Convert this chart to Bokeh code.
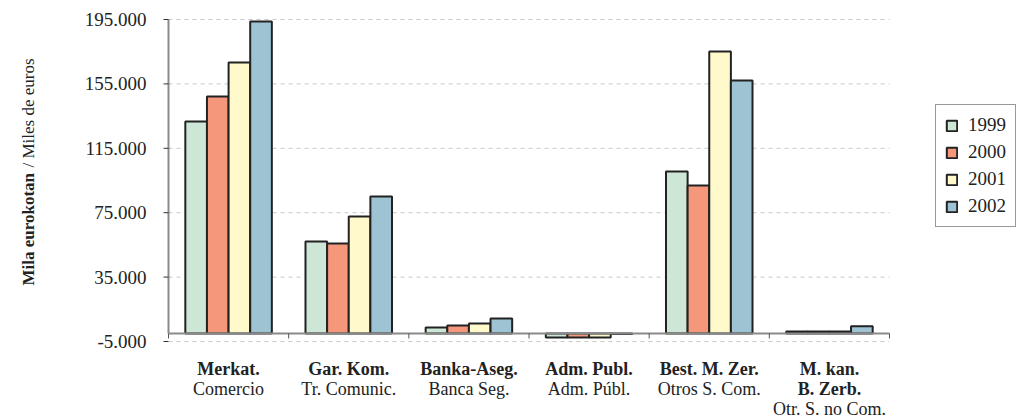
import numpy as np
from bokeh.plotting import figure
from bokeh.models import ColumnDataSource, Range1d, Legend, LegendItem
from bokeh.core.properties import value
from bokeh.transform import dodge
from bokeh.embed import file_html
from bokeh.resources import INLINE

# ---- data ----
cat_bold = [["Merkat."], ["Gar. Kom."], ["Banka-Aseg."], ["Adm. Publ."], ["Best. M. Zer."], ["M. kan.", "B. Zerb."]]
cat_es = ["Comercio", "Tr. Comunic.", "Banca Seg.", "Adm. Públ.", "Otros S. Com.", "Otr. S. no Com."]
years = ["1999", "2000", "2001", "2002"]
v1999 = [131700, 57100, 3700, -2500, 100600, 1200]
v2000 = [147200, 55900, 5000, -2500, 91900, 1200]
v2001 = [168300, 72700, 6200, -2500, 175200, 1200]
v2002 = [193800, 85100, 9300, -300, 157100, 4500]
y_ticks = [-5000, 35000, 75000, 115000, 155000, 195000]
y_tick_labels = ["-5.000", "35.000", "75.000", "115.000", "155.000", "195.000"]
y_title_bold = "Mila eurokotan"
y_title_rest = " / Miles de euros"
colors = ["#cde6d5", "#f5977a", "#fff9cc", "#9ec4d4"]

FONT = value("Liberation Serif")
TXT = "#222222"

# ---- layout (pixels) ----
W, H = 1018, 419
FL, FR = 168, 889          # x pixel of left / right edge of the category area
Y_TOP, Y_BOT = 19, 341     # y pixel of top / bottom tick
n = len(cat_es)
y_lo, y_hi = y_ticks[0], y_ticks[-1]
sx = (FR - FL) / n
sy = (Y_BOT - Y_TOP) / (y_hi - y_lo)

def ydata(pix):
    return y_hi - (pix - Y_TOP) / sy

def xdata(pix):
    return (pix - FL) / sx

p = figure(width=W, height=H, output_backend="svg", toolbar_location=None,
           x_range=Range1d(xdata(0), xdata(W)), y_range=Range1d(ydata(H), ydata(0)),
           min_border=0, min_border_left=0, min_border_right=0,
           min_border_top=0, min_border_bottom=0)
p.xaxis.visible = False
p.yaxis.visible = False
p.xgrid.grid_line_color = None
p.ygrid.grid_line_color = None
p.outline_line_color = None

# grid lines (dashed) at y ticks
p.segment(x0=0, x1=n, y0=y_ticks, y1=y_ticks, line_color="#c8c8c8",
          line_dash="4 4", line_width=1)

src = ColumnDataSource(dict(x=np.arange(n) + 0.5,
                            y1999=v1999, y2000=v2000, y2001=v2001, y2002=v2002))
offsets = [-0.27, -0.09, 0.09, 0.27]
renderers = []
for yr, off, c in zip(years, offsets, colors):
    r = p.vbar(x=dodge("x", off), top="y" + yr, bottom=0, width=0.18, source=src,
               fill_color=c, line_color="#222222", line_width=2)
    renderers.append(r)

# zero line with category boundary ticks
p.segment(x0=0, x1=n, y0=0, y1=0, line_color="#8a8a8a", line_width=2)
p.ray(x=list(range(n + 1)), y=0, length=5, length_units="screen", angle=-np.pi / 2,
      line_color="#555555", line_width=1)

# y axis line + ticks + labels
p.segment(x0=0, x1=0, y0=0, y1=y_hi, line_color="#8a8a8a", line_width=2)
p.ray(x=0, y=y_ticks, length=5, length_units="screen", angle=np.pi,
      line_color="#333333", line_width=1)
p.text(x=0, y=y_ticks, text=y_tick_labels, x_offset=-22, text_align="right",
       text_baseline="middle", text_font=FONT, text_font_size=value("19px"),
       text_color=TXT)

# category labels
base_pix = [368.5, 388.5, 408.0]
bx, by, bt, nx, ny, nt = [], [], [], [], [], []
for i, (bl, es) in enumerate(zip(cat_bold, cat_es)):
    for j, t in enumerate(bl):
        bx.append(i + 0.5); by.append(ydata(base_pix[j])); bt.append(t)
    nx.append(i + 0.5); ny.append(ydata(base_pix[len(bl)])); nt.append(es)
p.text(x=bx, y=by, text=bt, text_align="center",
       text_baseline="alphabetic", text_font=FONT, text_font_size=value("18px"),
       text_font_style="bold", text_color=TXT)
p.text(x=nx, y=ny, text=nt, text_align="center",
       text_baseline="alphabetic", text_font=FONT, text_font_size=value("18px"),
       text_font_style="normal", text_color=TXT)

# y axis title (bold part + normal part), rotated
p.text(x=xdata(28), y=ydata(285), text=[y_title_bold], angle=np.pi / 2,
       text_align="left", text_baseline="middle", text_font=FONT,
       text_font_size=value("17px"), text_font_style="bold", text_color=TXT)
p.text(x=xdata(28), y=ydata(167), text=[y_title_rest], angle=np.pi / 2,
       text_align="left", text_baseline="middle", text_font=FONT,
       text_font_size=value("17px"), text_font_style="normal", text_color=TXT)

legend = Legend(items=[LegendItem(label=yr, renderers=[r]) for yr, r in zip(years, renderers)],
                location=(935, H - 227), orientation="vertical",
                label_text_font="Liberation Serif", label_text_font_size="19px",
                label_text_color=TXT,
                glyph_width=13, glyph_height=13, label_height=20, spacing=5, padding=9,
                label_standoff=10, margin=0,
                border_line_color="#333333", border_line_width=1, background_fill_alpha=1)
p.add_layout(legend, "center")

open("out.html", "w").write(file_html(p, INLINE))
